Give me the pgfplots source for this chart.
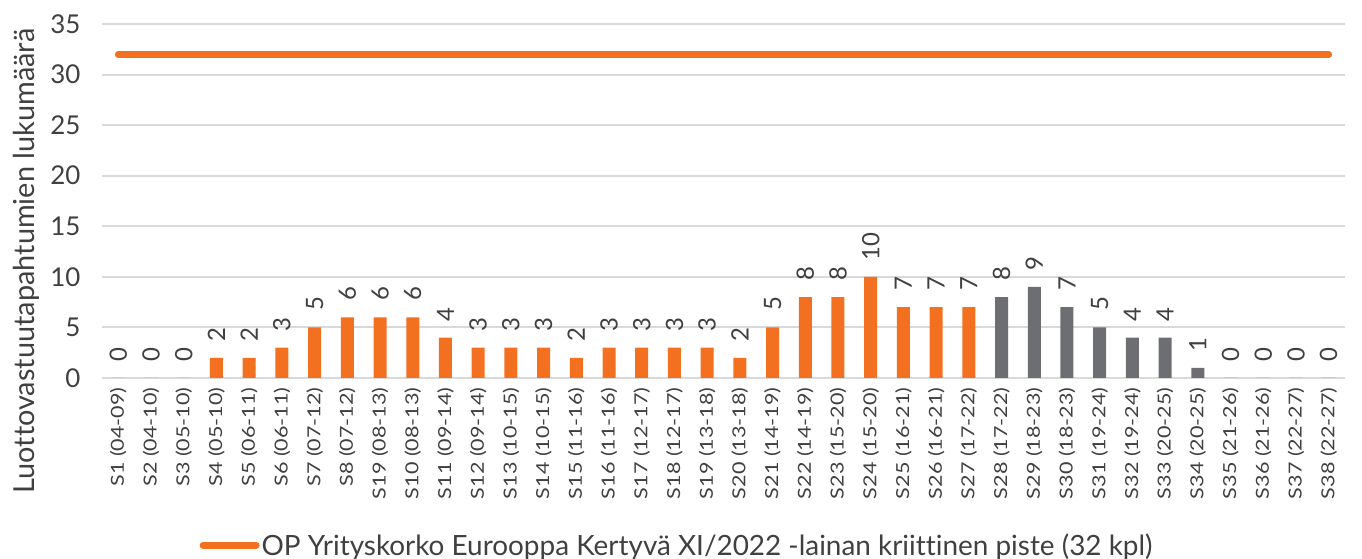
\documentclass[border=0pt]{standalone}
\usepackage{pgfplots}
\pgfplotsset{compat=1.18}
\usepackage{fontspec}
\setmainfont{Lato}[Ligatures=NoCommon]
\newfontfamily\xfont{Lato}[FakeStretch=1.2]
\definecolor{oporange}{HTML}{F37021}
\definecolor{opgray}{HTML}{6D6E72}
\definecolor{gridgray}{HTML}{D9D9D9}
\definecolor{txt}{HTML}{404040}
\begin{document}
\begin{tikzpicture}[x=1bp,y=1bp]
\useasboundingbox (0,0) rectangle (1362,559);
\begin{axis}[
  at={(102bp,181bp)}, anchor=south west,
  scale only axis, width=1243bp, height=354bp,
  xmin=-0.5, xmax=37.5, ymin=0, ymax=35,
  clip=false,
  /pgf/number format/assume math mode=true,
  ytick={0,5,...,35},
  xtick={0,...,37},
  xticklabels={S1 (04-09),S2 (04-10),S3 (05-10),S4 (05-10),S5 (06-11),S6 (06-11),S7 (07-12),S8 (07-12),S19 (08-13),S10 (08-13),S11 (09-14),S12 (09-14),S13 (10-15),S14 (10-15),S15 (11-16),S16 (11-16),S17 (12-17),S18 (12-17),S19 (13-18),S20 (13-18),S21 (14-19),S22 (14-19),S23 (15-20),S24 (15-20),S25 (16-21),S26 (16-21),S27 (17-22),S28 (17-22),S29 (18-23),S30 (18-23),S31 (19-24),S32 (19-24),S33 (20-25),S34 (20-25),S35 (21-26),S36 (21-26),S37 (22-27),S38 (22-27)},
  x tick label style={rotate=90, anchor=east, font=\xfont\fontsize{18}{18}\selectfont, text=txt},
  xticklabel shift=6bp,
  y tick label style={font=\fontsize{26}{26}\selectfont, text=txt},
  yticklabel style={xshift=-18bp},
  major tick length=0pt,
  axis line style={draw=none},
  ymajorgrids, grid style={gridgray, line width=2bp},
  ylabel={Luottovastuutapahtumien lukumäärä},
  ylabel style={at={(axis description cs:-0.061,0.33)}, anchor=center, font=\fontsize{29}{29}\selectfont, text=txt},
  legend style={at={(axis description cs:0.4626,-0.472)}, anchor=center, draw=none, fill=none, font=\fontsize{28}{28}\selectfont, text=txt},
  legend image code/.code={\draw[#1, line cap=round] (0bp,0bp) -- (53bp,0bp);},
]
\addplot[ybar, bar width=13bp, bar shift=0pt, fill=oporange, draw=none, forget plot,
  nodes near coords, every node near coord/.style={rotate=90, anchor=west, xshift=13bp, font=\fontsize{24}{24}\selectfont, text=txt}]
  coordinates {(0,0)(1,0)(2,0)(3,2)(4,2)(5,3)(6,5)(7,6)(8,6)(9,6)(10,4)(11,3)(12,3)(13,3)(14,2)(15,3)(16,3)(17,3)(18,3)(19,2)(20,5)(21,8)(22,8)(23,10)(24,7)(25,7)(26,7)};
\addplot[ybar, bar width=13bp, bar shift=0pt, fill=opgray, draw=none, forget plot,
  nodes near coords, every node near coord/.style={rotate=90, anchor=west, xshift=13bp, font=\fontsize{24}{24}\selectfont, text=txt}]
  coordinates {(27,8)(28,9)(29,7)(30,5)(31,4)(32,4)(33,1)(34,0)(35,0)(36,0)(37,0)};
\addplot[oporange, line width=7bp, line cap=round] coordinates {(0,32)(37,32)};
\addlegendentry{OP Yrityskorko Eurooppa Kertyvä XI/2022 -lainan kriittinen piste (32 kpl)}
\end{axis}
\end{tikzpicture}
\end{document}
